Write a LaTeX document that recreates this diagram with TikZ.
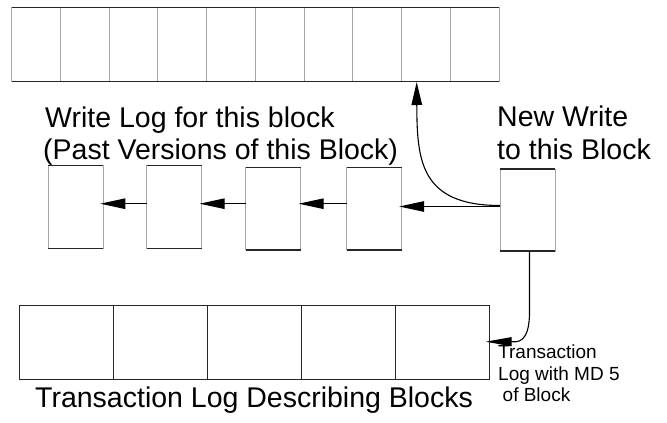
\documentclass[tikz,border=0pt]{standalone}
\usepackage{fontspec}
\setmainfont{Liberation Sans}
\usetikzlibrary{arrows.meta}
\begin{document}
\begin{tikzpicture}[x=1pt,y=-1pt,
  tcell/.style={draw=gray!70, line width=0.9pt, minimum width=48.73pt, minimum height=74.4pt, inner sep=0pt, outer sep=0pt, anchor=north west},
  mbox/.style={draw=gray!70, line width=0.9pt, minimum width=55pt, minimum height=82.5pt, inner sep=0pt, outer sep=0pt, anchor=north west},
  bcell/.style={draw=black!85, line width=0.9pt, minimum width=93.94pt, minimum height=73.6pt, inner sep=0pt, outer sep=0pt, anchor=north west},
  rim/.style={draw=black!85, line width=1.4pt},
  lbl/.style={inner sep=0pt, anchor=base west, font=\fontsize{28.5}{32}\selectfont},
  slbl/.style={inner sep=0pt, anchor=base west, font=\fontsize{19}{22}\selectfont},
  arr/.style={draw=black, line width=1.1pt, -{Triangle[length=25pt,width=10.5pt]}},
  arrc/.style={draw=black, line width=1.1pt, -{Triangle[length=23pt,width=10.5pt]}},
  arrb/.style={draw=black, line width=1.1pt, -{Triangle[length=26pt,width=9pt]}}
]
\useasboundingbox (0,0) rectangle (667,423);

% top row of blocks
\foreach \i in {1,...,10}
  \node[tcell] (t\i) at ({11.7+(\i-1)*48.73},7.3) {};
\draw[rim] (t1.north west) -- (t10.north east);
\draw[rim] (t1.south west) -- (t10.south east);

% write log boxes
\node[mbox] (b1) at (48.3,165.7) {};
\node[mbox] (b2) at (146.7,165.7) {};
\node[mbox] (b3) at (245.7,167.3) {};
\node[mbox] (b4) at (346.7,167.3) {};
\node[mbox, minimum height=82pt] (nw) at (500,169) {};
\foreach \b in {b1,b2,b3,b4,nw}{
  \draw[rim] (\b.north west) -- (\b.north east);
  \draw[rim] (\b.south west) -- (\b.south east);
}

% bottom row (transaction log)
\foreach \i in {1,...,5}
  \node[bcell] (r\i) at ({19.3+(\i-1)*93.94},305.7) {};
\draw[rim, line width=1.2pt] (r1.north west) -- (r5.north east);
\draw[rim, line width=1.2pt] (r1.south west) -- (r5.south east);

% arrows between log boxes
\draw[arr, shorten >=-3pt] (b2.west |- 0,203.7) -- (b1.east |- 0,203.7);
\draw[arr, shorten >=-2pt] (b3.west |- 0,203.7) -- (b2.east |- 0,203.7);
\draw[arr, shorten >=-2pt] (b4.west |- 0,203.7) -- (b3.east |- 0,203.7);
\draw[arr, shorten >=-2.5pt] (nw.west |- 0,206.5) -- (b4.east |- 0,206.5);

% curved arrow up to the block
\coordinate (tipA) at (416.7,82);
\draw[arrc] (nw.west |- 0,205.5) .. controls (420,205.5) and (417,160) .. (tipA);

% curved arrow down to the transaction log
\coordinate (tipB) at (485.7,341.7);
\draw[arrb] (nw.south -| 529.5,0) -- (529.5,312) .. controls (529.5,345) and (516,341.7) .. (tipB);

% labels
\node[lbl] (l1) at (45,127) {Write Log for this block};
\node[lbl] (l2) at (43,159) {(Past Versions of this Block)};
\node[lbl] (l3) at (497,126) {New Write};
\node[lbl] (l4) at (497,159) {to this Block};
\node[lbl] (l5) at (35,407.7) {Transaction Log Describing Blocks};
\node[slbl] (s1) at (498,358.3) {Transaction};
\node[slbl] (s2) at (498,380) {Log with MD 5};
\node[slbl] (s3) at (502.5,401.7) {of Block};
\end{tikzpicture}
\end{document}
